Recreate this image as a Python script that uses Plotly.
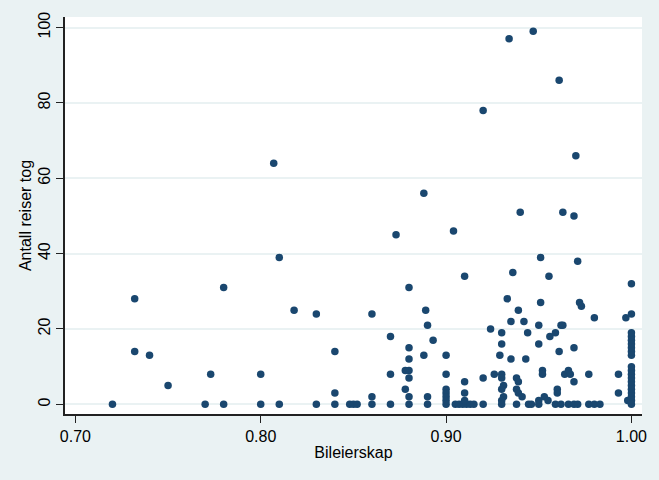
import plotly.graph_objects as go

# Bileierskap (x) and Antall reiser tog (y)
bileierskap = [
    0.720, 0.732, 0.732, 0.740, 0.750, 0.770, 0.773, 0.780, 0.780, 0.800, 0.800,
    0.807, 0.810, 0.810, 0.818, 0.830, 0.830,
    0.840, 0.840, 0.840, 0.848, 0.850, 0.852,
    0.860, 0.860, 0.860,
    0.870, 0.870, 0.870, 0.873,
    0.880, 0.880, 0.880, 0.880, 0.878, 0.880, 0.878, 0.880, 0.880,
    0.888, 0.889, 0.890, 0.893, 0.888, 0.890, 0.890,
    0.900, 0.900, 0.900, 0.900, 0.900, 0.900, 0.900,
    0.904,
    0.905, 0.907, 0.909, 0.911, 0.913, 0.915,
    0.910, 0.910, 0.910, 0.910,
    0.920, 0.920, 0.920,
    0.924, 0.926,
    0.930, 0.930, 0.929, 0.930, 0.930, 0.931, 0.930, 0.931, 0.930, 0.930,
    0.933, 0.934, 0.935, 0.935, 0.936, 0.939,
    0.940, 0.938, 0.939, 0.938, 0.939, 0.941, 0.938,
    0.942, 0.944, 0.943, 0.9445, 0.946,
    0.947,
    0.951, 0.951, 0.950, 0.950, 0.952, 0.952, 0.950, 0.950,
    0.953, 0.955,
    0.9555, 0.956, 0.959,
    0.961, 0.961, 0.962, 0.963,
    0.960, 0.960, 0.959, 0.962,
    0.963,
    0.964, 0.966, 0.967, 0.966,
    0.969, 0.969, 0.969, 0.970,
    0.969, 0.971,
    0.971, 0.972, 0.973,
    0.977, 0.977, 0.980, 0.980, 0.983,
    0.993, 0.993, 0.997, 0.998,
    1.0, 1.0, 1.0, 1.0, 1.0, 1.0, 1.0, 1.0, 1.0, 1.0, 1.0,
    1.0, 1.0, 1.0, 1.0, 1.0, 1.0, 1.0,
    1.0, 1.0,
]
antall_reiser_tog = [
    0, 28, 14, 13, 5, 0, 8, 31, 0, 8, 0,
    64, 39, 0, 25, 24, 0,
    14, 3, 0, 0, 0, 0,
    24, 2, 0,
    18, 8, 0, 45,
    31, 15, 12, 9, 9, 7, 4, 2, 0,
    56, 25, 21, 17, 13, 2, 0,
    13, 8, 4, 3, 2, 1, 0,
    46,
    0, 0, 0, 0, 0, 0,
    34, 6, 3, 1,
    78, 7, 0,
    20, 8,
    19, 16, 13, 8, 7, 5, 4, 2, 1, 0,
    28, 97, 22, 12, 35, 25,
    51, 7, 6, 4, 3, 2, 0,
    22, 19, 12, 0, 0,
    99,
    39, 27, 21, 16, 9, 8, 1, 0,
    2, 1,
    34, 18, 19,
    86, 14, 21, 21,
    4, 3, 0, 0,
    51,
    8, 9, 8, 0,
    50, 15, 6, 66,
    0, 0,
    38, 27, 26,
    8, 0, 23, 0, 0,
    8, 3, 23, 1,
    0, 1, 2, 3, 4, 5, 6, 7, 8, 9, 10,
    13, 14, 15, 16, 17, 18, 19,
    24, 32,
]

x_ticks = [0.70, 0.80, 0.90, 1.00]
x_tick_labels = ["0.70", "0.80", "0.90", "1.00"]
y_ticks = [0, 20, 40, 60, 80, 100]
y_tick_labels = ["0", "20", "40", "60", "80", "100"]

BG = "#EAF2F3"
MARK = "#1A476F"
FONT = "Liberation Sans, Arial, sans-serif"

fig = go.Figure()
fig.add_trace(go.Scatter(
    x=bileierskap, y=antall_reiser_tog, mode="markers",
    marker=dict(color=MARK, size=7.5, line=dict(width=0)),
    showlegend=False, hoverinfo="x+y",
))

fig.update_layout(
    width=659, height=480,
    margin=dict(l=65, r=17, t=17, b=66),
    paper_bgcolor=BG, plot_bgcolor="white",
    font=dict(family=FONT, size=16, color="black"),
    xaxis=dict(
        range=[0.6944, 1.0057],
        tickvals=x_ticks, ticktext=x_tick_labels,
        ticks="outside", ticklen=7, tickwidth=1, tickcolor="#222",
        showline=True, linecolor="#222", linewidth=1.5,
        showgrid=False, zeroline=False,
        title=dict(text="Bileierskap", standoff=3, font=dict(size=16)),
        tickfont=dict(size=16),
    ),
    yaxis=dict(
        range=[-2.57, 102.8],
        tickvals=y_ticks, ticktext=y_tick_labels,
        tickangle=-90,
        ticks="outside", ticklen=7, tickwidth=1, tickcolor="#222",
        showline=True, linecolor="#222", linewidth=1.5,
        showgrid=True, gridcolor=BG, gridwidth=1.5,
        zeroline=False,
        title=dict(text="Antall reiser tog", standoff=0, font=dict(size=16)),
        tickfont=dict(size=16),
    ),
)

fig.write_html("out.html")
